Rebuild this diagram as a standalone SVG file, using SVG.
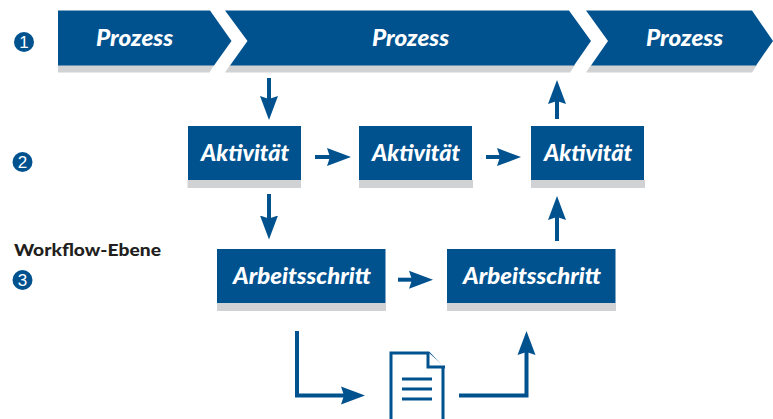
<svg xmlns="http://www.w3.org/2000/svg" width="773" height="419" viewBox="0 0 773 419">
<style>
.b{fill:#00528f}.g{fill:#d1d2d4}
.t{font-family:"Lato","Liberation Sans",sans-serif;font-weight:900;font-style:italic;font-size:22.500px;fill:#fff}
.n{font-family:"Liberation Sans",sans-serif;font-size:17px;fill:#fff;text-anchor:middle}
.w{font-family:"Lato","Liberation Sans",sans-serif;font-weight:900;font-size:17.500px;fill:#231f20}
.c{fill:none;stroke:#00528f;stroke-width:4}
.d{fill:#fff;stroke:#00528f;stroke-width:3}
</style>
<defs>
<marker id="a" markerUnits="userSpaceOnUse" markerWidth="26" markerHeight="20" refX="10" refY="9.500" orient="auto"><path d="M0 .5L24 9.500L0 18.500L3 9.500z" fill="#00528f"/></marker>
</defs>
<rect width="773" height="419" fill="#fff"/>
<g id="marker-1"><circle cx="24" cy="42" r="10" class="b"/><text x="24" y="48" class="n">1</text></g>
<g id="marker-2"><circle cx="22.500" cy="162" r="10" class="b"/><text x="22.500" y="168" class="n">2</text></g>
<g id="marker-3"><circle cx="22.500" cy="280" r="10" class="b"/><text x="22.500" y="286" class="n">3</text></g>
<text id="workflow-label" x="14" y="256" class="w" textLength="147" lengthAdjust="spacingAndGlyphs">Workflow-Ebene</text>
<g id="prozess-1">
<path class="g" d="M58 65H214L209.500 72.500H58z"/>
<path class="b" d="M58 10.500H210L231.500 41L214 65.500H58z"/>
<text class="t" x="96" y="46" textLength="77" lengthAdjust="spacingAndGlyphs">Prozess</text>
</g>
<g id="prozess-2">
<path class="g" d="M230 65H575L570 72.500H225z"/>
<path class="b" d="M225 10.500H569L591 41L574 65.500H230L247.500 41z"/>
<text class="t" x="372" y="46" textLength="77" lengthAdjust="spacingAndGlyphs">Prozess</text>
</g>
<g id="prozess-3">
<path class="g" d="M591 65H757L752 72.500H586z"/>
<path class="b" d="M586 10.500H752L773 41L756 65.500H591L608 41z"/>
<text class="t" x="646" y="46" textLength="77" lengthAdjust="spacingAndGlyphs">Prozess</text>
</g>
<g id="aktivitaet-1"><rect class="g" x="187.500" y="180" width="113.500" height="8"/><rect class="b" x="188" y="126" width="113" height="54"/><text class="t" x="201" y="161" textLength="88" lengthAdjust="spacingAndGlyphs">Aktivität</text></g>
<g id="aktivitaet-2"><rect class="g" x="359" y="180" width="114" height="8"/><rect class="b" x="359" y="126" width="113" height="54"/><text class="t" x="372" y="161" textLength="88" lengthAdjust="spacingAndGlyphs">Aktivität</text></g>
<g id="aktivitaet-3"><rect class="g" x="531" y="180" width="114" height="8"/><rect class="b" x="531" y="126" width="113" height="54"/><text class="t" x="544" y="161" textLength="88" lengthAdjust="spacingAndGlyphs">Aktivität</text></g>
<g id="arbeitsschritt-1"><rect class="g" x="217" y="303" width="169" height="8"/><rect class="b" x="217" y="249" width="168.500" height="54"/><text class="t" x="233" y="284" textLength="138" lengthAdjust="spacingAndGlyphs">Arbeitsschritt</text></g>
<g id="arbeitsschritt-2"><rect class="g" x="447" y="303" width="169" height="8"/><rect class="b" x="447" y="249" width="168.500" height="54"/><text class="t" x="463" y="284" textLength="138" lengthAdjust="spacingAndGlyphs">Arbeitsschritt</text></g>
<g id="dokument">
<path class="d" d="M391 419V353H428.500L443 368V419"/>
<path class="d" d="M428 352V367H445"/>
<path d="M402 379H432M402 389H432M402 399H432" fill="none" stroke="#00528f" stroke-width="3"/>
</g>
<g id="connectors" class="c">
<path marker-end="url(#a)" d="M269 78V106"/>
<path marker-end="url(#a)" d="M269 194V225.500"/>
<path marker-end="url(#a)" d="M557 119V94"/>
<path marker-end="url(#a)" d="M557 241V210"/>
<path marker-end="url(#a)" d="M315 157H337"/>
<path marker-end="url(#a)" d="M486 157H507"/>
<path marker-end="url(#a)" d="M398 279.700H419"/>
<path marker-end="url(#a)" d="M297 331V395.500H351"/>
<path marker-end="url(#a)" d="M459 395.500H526.500V345"/>
</g>
</svg>
